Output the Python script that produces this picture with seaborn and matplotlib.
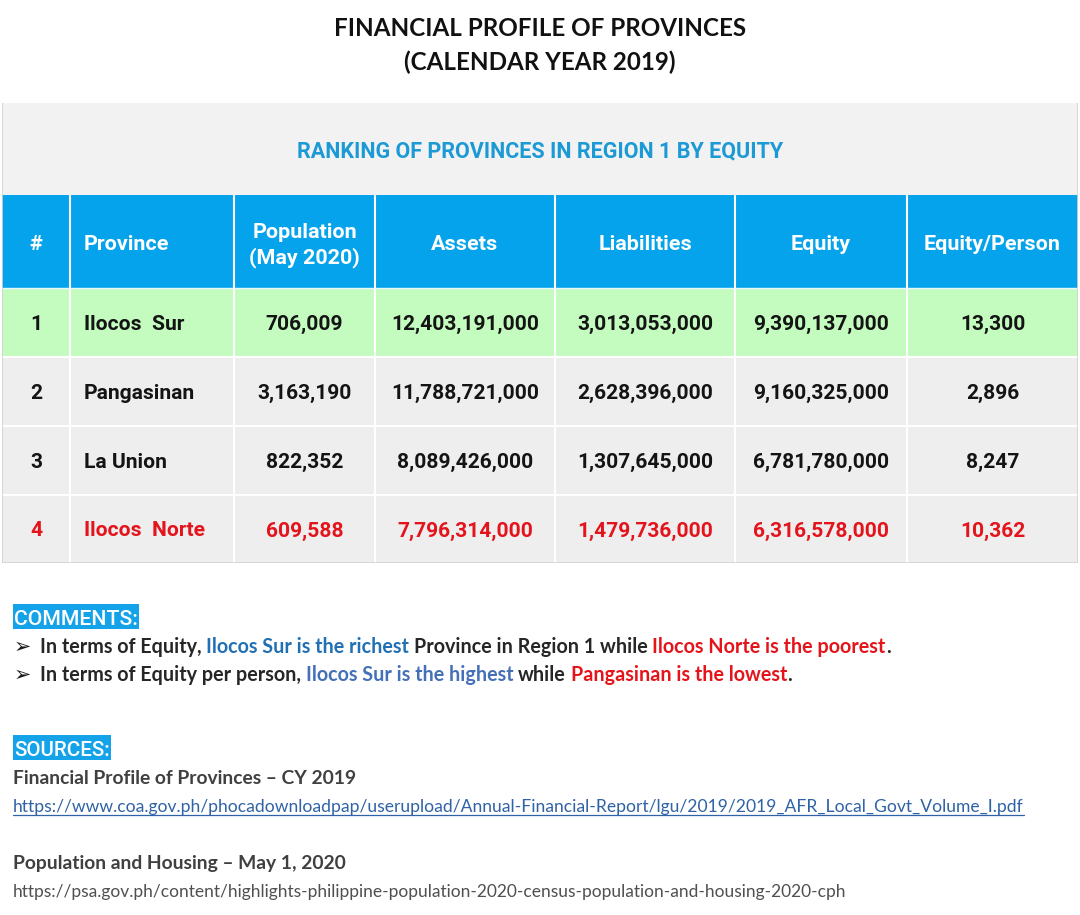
import numpy as np
import pandas as pd
import matplotlib
matplotlib.use("Agg")
import matplotlib.pyplot as plt
import seaborn as sns
from matplotlib.colors import ListedColormap
from matplotlib.patches import Rectangle

# ---------------- data ----------------
ranks = [1, 2, 3, 4]
provinces = ["Ilocos  Sur", "Pangasinan", "La Union", "Ilocos  Norte"]
population = [706009, 3163190, 822352, 609588]
assets = [12403191000, 11788721000, 8089426000, 7796314000]
liabilities = [3013053000, 2628396000, 1307645000, 1479736000]
equity = [9390137000, 9160325000, 6781780000, 6316578000]
equity_per_person = [13300, 2896, 8247, 10362]
headers = ["#", "Province", "Population\n(May 2020)", "Assets", "Liabilities", "Equity", "Equity/Person"]

title_lines = ["FINANCIAL PROFILE OF PROVINCES", "(CALENDAR YEAR 2019)"]
band_title = "RANKING OF PROVINCES IN REGION 1 BY EQUITY"

comment1 = [("In terms of Equity, ", "dark"), ("Ilocos Sur is the richest ", "blue1"),
            ("Province in Region 1 while ", "dark"), ("Ilocos Norte is the poorest", "red"), (".", "dark")]
comment2 = [("In terms of Equity per person, ", "dark"), ("Ilocos Sur is the highest ", "blue2"),
            ("while ", "dark"), ("Pangasinan is the lowest", "red"), (".", "dark")]
source1_title = "Financial Profile of Provinces \u2013 CY 2019"
source1_url = "https://www.coa.gov.ph/phocadownloadpap/userupload/Annual-Financial-Report/lgu/2019/2019_AFR_Local_Govt_Volume_I.pdf"
source2_title = "Population and Housing \u2013 May 1, 2020"
source2_url = "https://psa.gov.ph/content/highlights-philippine-population-2020-census-population-and-housing-2020-cph"

# ---------------- style ----------------
sns.set_theme(style="white")
plt.rcParams["font.family"] = ["Roboto", "DejaVu Sans"]

COL = {"dark": "#262626", "blue1": "#2270b4", "blue2": "#4470b8", "red": "#e5141b"}
TABLE_RED = "#e3141b"
HEAD_BLUE = "#05a3ec"
BAND_GRAY = "#f2f2f2"
GREEN = "#c4fcbf"
ROW_GRAY = "#eeeeee"
CALIBRI_LIKE = ["Lato", "DejaVu Sans"]
LABEL_FONT = ["Roboto"]

W, H = 1080, 915
fig = plt.figure(figsize=(W / 100, H / 100), dpi=100)
fig.patch.set_facecolor("white")

bg = fig.add_axes([0, 0, 1, 1], zorder=0)
bg.set_xlim(0, W)
bg.set_ylim(H, 0)
bg.axis("off")

renderer = fig.canvas.get_renderer()


def text_w(s, size, **kw):
    t = bg.text(0, 0, s, fontsize=size, **kw)
    w = t.get_window_extent(renderer).width
    t.remove()
    return w


def fit(s, target, **kw):
    return 20.0 * target / text_w(s, 20.0, **kw)


# ---------------- table (heatmap with non-uniform cell sizes) ----------------
tbl_left, tbl_right, tbl_top, tbl_bot = 2, 1078, 103, 563
x_edges_px = np.array([2, 70, 234, 375, 555, 735, 907, 1078]) - tbl_left
y_edges_px = np.array([103, 195, 288, 357, 426, 495, 563]) - tbl_top
x_idx = np.arange(len(x_edges_px))
y_idx = np.arange(len(y_edges_px))

ax = fig.add_axes([tbl_left / W, 1 - tbl_bot / H, (tbl_right - tbl_left) / W, (tbl_bot - tbl_top) / H], zorder=2)

n_cols = len(headers)
codes = np.array([[0] * n_cols, [1] * n_cols, [2] * n_cols] + [[3] * n_cols] * (len(ranks) - 1))
cell_df = pd.DataFrame(codes, columns=[h.replace("\n", " ") for h in headers])
sns.heatmap(cell_df, ax=ax, cmap=ListedColormap([BAND_GRAY, HEAD_BLUE, GREEN, ROW_GRAY]),
            vmin=-0.5, vmax=3.5, cbar=False, xticklabels=False, yticklabels=False, linewidths=0)

ax.set_xscale("function", functions=(lambda v: np.interp(v, x_idx, x_edges_px),
                                     lambda p: np.interp(p, x_edges_px, x_idx)))
ax.set_yscale("function", functions=(lambda v: np.interp(v, y_idx, y_edges_px),
                                     lambda p: np.interp(p, y_edges_px, y_idx)))
ax.set_xlim(0, n_cols)
ax.set_ylim(len(y_idx) - 1, 0)
ax.set_xticks([])
ax.set_yticks([])
ax.set_xlabel("")
ax.set_ylabel("")
for s in ax.spines.values():
    s.set_visible(False)


def xd(px):
    return float(np.interp(px - tbl_left, x_edges_px, x_idx))


def yd(py):
    return float(np.interp(py - tbl_top, y_edges_px, y_idx))


# grid lines
sep = 1.5
ax.vlines(x_idx[1:-1], 1, len(y_idx) - 1, colors="white", linewidth=sep)
ax.hlines(y_idx[3:-1], 0, n_cols, colors="white", linewidth=sep)
ax.hlines([2], 0, n_cols, colors="#e8f8ff", linewidth=1.0)
# outer border
ax.vlines([0.002, n_cols - 0.002], 0, len(y_idx) - 1, colors="#d2d2d2", linewidth=1.2)
ax.hlines([len(y_idx) - 1.003], 0, n_cols, colors="#d2d2d2", linewidth=1.2)

# band title
band_size = fit(band_title, 486, fontweight="bold")
ax.text(xd(540), yd(149), band_title, ha="center", va="center_baseline",
        fontsize=band_size, fontweight="bold", color="#1c9ad6")

# header
head_size = fit("Population", 104, fontweight="bold")
prov_x = xd(84)
for j, h in enumerate(headers):
    lines = h.split("\n")
    if len(lines) == 1:
        if j == 1:
            ax.text(prov_x, yd(242), h, ha="left", va="center_baseline",
                    fontsize=head_size, fontweight="bold", color="white")
        else:
            ax.text(j + 0.5, yd(242), h, ha="center", va="center_baseline",
                    fontsize=head_size, fontweight="bold", color="white")
    else:
        for k, ln in enumerate(lines):
            ax.text(j + 0.5, yd(230 + 25 * k), ln, ha="center", va="center_baseline",
                    fontsize=head_size, fontweight="bold", color="white")

# rows
val_size = fit("12,403,191,000", 148, fontweight="bold")
for i in range(len(ranks)):
    r = i + 2
    color = TABLE_RED if i == len(ranks) - 1 else "#141414"
    row_vals = [str(ranks[i]), None, f"{population[i]:,}", f"{assets[i]:,}",
                f"{liabilities[i]:,}", f"{equity[i]:,}", f"{equity_per_person[i]:,}"]
    ycen = r + 0.5
    for j, v in enumerate(row_vals):
        if j == 1:
            ax.text(prov_x, ycen, provinces[i], ha="left", va="center_baseline",
                    fontsize=val_size, fontweight="bold", color=color)
        else:
            ax.text(j + 0.5, ycen, v, ha="center", va="center_baseline",
                    fontsize=val_size, fontweight="bold", color=color)

# ---------------- title ----------------
t1 = fit(title_lines[0], 411, fontweight="bold", family=CALIBRI_LIKE)
bg.text(540, 36, title_lines[0], ha="center", va="baseline", fontsize=t1,
        fontweight="bold", family=CALIBRI_LIKE, color="#111111")
bg.text(540, 70, title_lines[1], ha="center", va="baseline", fontsize=t1,
        fontweight="bold", family=CALIBRI_LIKE, color="#111111")


# ---------------- comments ----------------
def label_box(x, y, w, h, s):
    bg.add_patch(Rectangle((x, y), w, h, facecolor="#14a3e9", edgecolor="none"))
    sz = fit(s, w - 2, family=LABEL_FONT, fontweight="medium")
    bg.text(x + 1, y + h - 4, s, ha="left", va="baseline", fontsize=sz,
            family=LABEL_FONT, fontweight="medium", color="white")


label_box(13, 604, 126, 25, "COMMENTS:")

full1 = "".join(s for s, _ in comment1)
csize = fit(full1, 851, fontweight="bold", family=CALIBRI_LIKE)


def rich_line(x0, y, segs, size):
    kw = dict(fontweight="bold", family=CALIBRI_LIKE)
    acc = ""
    for s, c in segs:
        acc += s
        core = s.strip()
        if not core:
            continue
        xk = x0 + text_w(acc.rstrip(), size, **kw) - text_w(core, size, **kw)
        bg.text(xk, y, core, ha="left", va="baseline", fontsize=size, color=COL[c], **kw)


arrow_size = fit("\u27a2", 15, family=["DejaVu Sans"]) * 1.15
for yb, segs in [(653, comment1), (681, comment2)]:
    bg.text(14, yb, "\u27a2", ha="left", va="baseline", fontsize=arrow_size,
            family=["DejaVu Sans"], color="#1a1a1a")
    rich_line(40, yb, segs, csize)

# ---------------- sources ----------------
label_box(13, 735, 98, 25, "SOURCES:")

s_size = fit(source1_title, 345, fontweight="bold", family=CALIBRI_LIKE)
bg.text(13, 784, source1_title, ha="left", va="baseline", fontsize=s_size,
        fontweight="bold", family=CALIBRI_LIKE, color="#404040")
bg.text(13, 869, source2_title, ha="left", va="baseline", fontsize=s_size,
        fontweight="bold", family=CALIBRI_LIKE, color="#404040")

u_size = fit(source1_url, 1007, family=CALIBRI_LIKE)
bg.text(13, 812, source1_url, ha="left", va="baseline", fontsize=u_size,
        family=CALIBRI_LIKE, color="#2f62a6")
bg.plot([13, 13 + text_w(source1_url, u_size, family=CALIBRI_LIKE)], [814.5, 814.5],
        color="#2f62a6", linewidth=0.9)
u2_size = fit(source2_url, 834, family=CALIBRI_LIKE)
bg.text(13, 897, source2_url, ha="left", va="baseline", fontsize=u2_size,
        family=CALIBRI_LIKE, color="#505050")

fig.savefig("out.png", dpi=100, facecolor="white")
